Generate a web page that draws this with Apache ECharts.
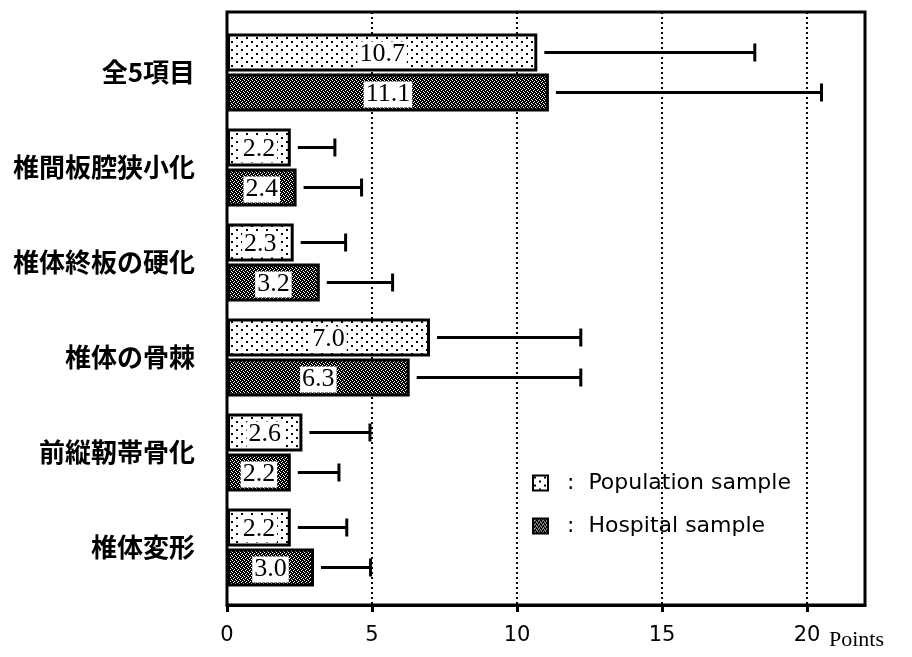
<!DOCTYPE html>
<html>
<head>
<meta charset="utf-8">
<script src="https://cdn.jsdelivr.net/npm/echarts@6/dist/echarts.min.js"></script>
<style>html,body{margin:0;padding:0;background:#fff}#c{width:912px;height:657px}</style>
</head>
<body>
<div id="c"></div>
<script>
// ---- data ----
const categories = ['全5項目', '椎間板腔狭小化', '椎体終板の硬化', '椎体の骨棘', '前縦靭帯骨化', '椎体変形'];
const populationMeans = [10.7, 2.2, 2.3, 7.0, 2.6, 2.2];
const hospitalMeans   = [11.1, 2.4, 3.2, 6.3, 2.2, 3.0];
const populationUpper = [18.2, 3.72, 4.09, 12.2, 4.93, 4.13];
const hospitalUpper   = [20.5, 4.64, 5.71, 12.2, 3.86, 4.95];
const xTicks = [0, 5, 10, 15, 20];
const seriesNames = ['Population sample', 'Hospital sample'];

// ---- patterns ----
function makePop() {
  const c = document.createElement('canvas'); c.width = 10; c.height = 8;
  const g = c.getContext('2d');
  g.fillStyle = '#fff'; g.fillRect(0, 0, 10, 8);
  g.fillStyle = '#000'; g.fillRect(1, 1, 2, 2); g.fillRect(6, 5, 2, 2);
  return c;
}
function makeHosp() {
  const c = document.createElement('canvas'); c.width = 4; c.height = 4;
  const g = c.getContext('2d');
  g.fillStyle = '#000'; g.fillRect(0, 0, 4, 4);
  g.fillStyle = '#fff';
  [[0,0],[2,1],[1,2],[3,3]].forEach(p => g.fillRect(p[0], p[1], 1, 1));
  return c;
}
const popColor = { image: makePop(), repeat: 'repeat' };
const hospColor = { image: makeHosp(), repeat: 'repeat' };

const chart = echarts.init(document.getElementById('c'), null, { renderer: 'canvas' });

function errSeries(name, means, upper, off) {
  return {
    type: 'custom', name: name + '_err', xAxisIndex: 1, yAxisIndex: 1, silent: true,
    data: means.map((m, i) => [i, m, upper[i]]),
    encode: { x: [1, 2], y: 0 },
    renderItem: function (params, api) {
      const cat = api.value(0);
      const s = api.coord([api.value(1), cat]);
      const e = api.coord([api.value(2), cat]);
      const y = s[1] + off;
      const st = { stroke: '#000', lineWidth: 3 };
      return { type: 'group', children: [
        { type: 'line', shape: { x1: s[0] + 7, y1: y, x2: e[0], y2: y }, style: st },
        { type: 'line', shape: { x1: e[0], y1: y - 9, x2: e[0], y2: y + 9 }, style: st }
      ]};
    }
  };
}

const labelCfg = {
  show: true, position: 'inside', color: '#000',
  fontFamily: 'Liberation Serif', fontSize: 26,
  backgroundColor: '#fff', padding: [0, 2, 0, 2], offset: [0, 2],
  formatter: p => p.value.toFixed(1)
};

chart.setOption({
  animation: false,
  grid: [
    { left: 227, right: 47, top: 12, bottom: 52, show: true, borderColor: '#000', borderWidth: 3, backgroundColor: 'transparent' },
    { left: 227, right: 47, top: 25, height: 570 }
  ],
  xAxis: [
    {
      gridIndex: 0, type: 'value', min: 0, max: 22, interval: 5,
      name: 'Points', nameLocation: 'end', nameGap: -36,
      nameTextStyle: { fontFamily: 'Liberation Serif', fontSize: 22, color: '#000', align: 'left', verticalAlign: 'top', padding: [24, 0, 0, 0] },
      axisLine: { lineStyle: { color: '#000', width: 3 } },
      axisTick: { show: true, length: 7, lineStyle: { color: '#000', width: 3 }, customValues: xTicks },
      axisLabel: { color: '#000', fontFamily: 'DejaVu Sans', fontSize: 21, margin: 20, customValues: xTicks },
      splitLine: { show: true, lineStyle: { color: '#000', width: 2, type: [2, 3] } }
    },
    { gridIndex: 1, type: 'value', min: 0, max: 22, show: false, splitLine: { show: false } }
  ],
  yAxis: [
    { gridIndex: 0, type: 'value', min: 0, max: 1, show: false, splitLine: { show: false } },
    {
      gridIndex: 1, type: 'category', data: categories, inverse: true,
      axisLine: { show: false }, axisTick: { show: false },
      axisLabel: { color: '#000', fontFamily: 'Noto Sans CJK JP', fontWeight: 'bold', fontSize: 26, margin: 32 }
    }
  ],
  legend: {
    orient: 'vertical', left: 532, top: 472, padding: 0, itemWidth: 15, itemHeight: 15, itemGap: 21,
    data: seriesNames,
    icon: 'rect',
    formatter: n => '  :  ' + n,
    textStyle: { color: '#000', fontFamily: 'DejaVu Sans', fontSize: 22 }
  },
  series: [
    {
      name: seriesNames[0], type: 'bar', xAxisIndex: 1, yAxisIndex: 1, data: populationMeans,
      barWidth: 38, barGap: '5%',
      itemStyle: { color: popColor, borderColor: '#000', borderWidth: 3 },
      label: labelCfg
    },
    {
      name: seriesNames[1], type: 'bar', xAxisIndex: 1, yAxisIndex: 1, data: hospitalMeans,
      barWidth: 38, barGap: '5%',
      itemStyle: { color: hospColor, borderColor: '#000', borderWidth: 3 },
      label: labelCfg
    },
    errSeries(seriesNames[0], populationMeans, populationUpper, -20),
    errSeries(seriesNames[1], hospitalMeans, hospitalUpper, 20)
  ]
});
</script>
</body>
</html>
